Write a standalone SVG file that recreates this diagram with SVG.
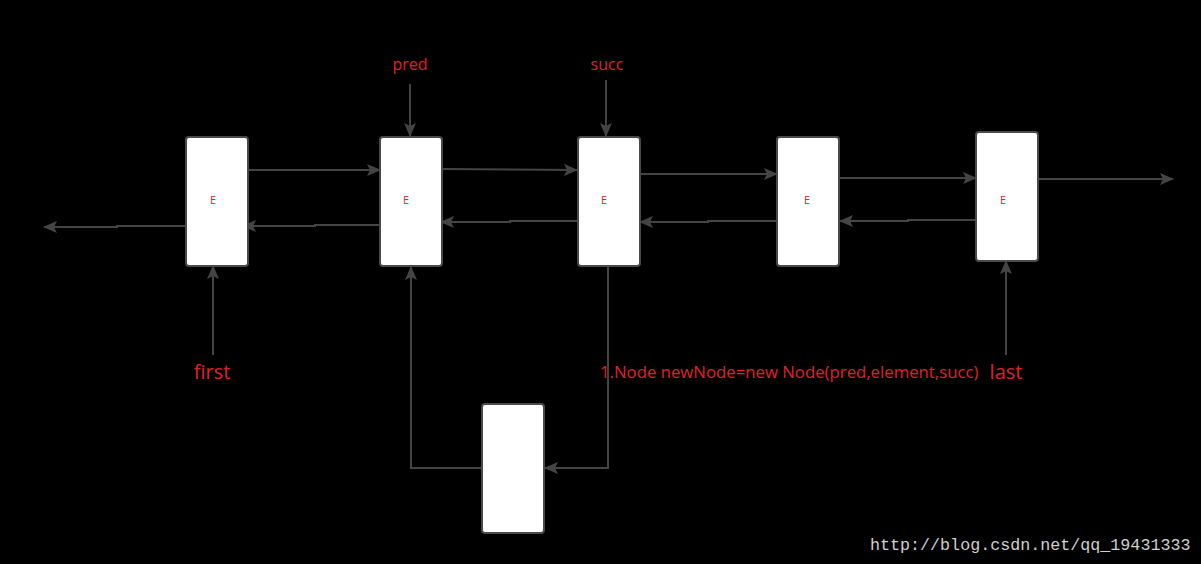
<svg xmlns="http://www.w3.org/2000/svg" width="1201" height="564" viewBox="0 0 1201 564">
<defs>
<marker id="ah" markerUnits="userSpaceOnUse" markerWidth="14" markerHeight="12" refX="13" refY="6" orient="auto">
<path d="M0,0 L14,6 L0,12 L3,6 Z" fill="#444"/>
</marker>
<style>
.box{fill:#fff;stroke:#4a4a4a;stroke-width:2}
.lbl{fill:#e0202a;font-family:"Open Sans","Noto Sans",sans-serif}
.e{font-size:11px;text-anchor:middle}
.c{fill:none;stroke:#444;stroke-width:2;marker-end:url(#ah)}
.wm{fill:#cfcfcf;font-family:"Liberation Mono",monospace;font-size:16.7px}
</style>
</defs>
<rect width="1201" height="564" fill="#000"/>
<g id="connectors">
<path class="c" d="M249,170 L380,170"/>
<path class="c" d="M380,225 L315,225 L315,226 L243,226"/>
<path class="c" d="M443,169 L577,170"/>
<path class="c" d="M578,221 L510,221 L510,222 L441,222"/>
<path class="c" d="M641,174 L777,174"/>
<path class="c" d="M777,221 L708,221 L708,222 L640,222"/>
<path class="c" d="M840,178 L976,178"/>
<path class="c" d="M976,220 L908,220 L908,221 L840,221"/>
<path class="c" d="M1039,179 L1173,179"/>
<path class="c" d="M186,226 L117,226 L117,227 L44,227"/>
<path class="c" d="M410,84 L410,136"/>
<path class="c" d="M606,80 L606,136"/>
<path class="c" d="M213,355 L213,266"/>
<path class="c" d="M1006,355 L1006,261"/>
<path class="c" d="M608,267 L608,468 L545,468"/>
<path class="c" d="M482,468 L411,468 L411,267"/>
</g>
<g id="n1"><rect class="box" x="186" y="137" width="62" height="129" rx="3"/><text class="lbl e" x="213" y="204">E</text></g>
<g id="n2"><rect class="box" x="380" y="137" width="62" height="129" rx="3"/><text class="lbl e" x="406" y="204">E</text></g>
<g id="n3"><rect class="box" x="578" y="137" width="62" height="129" rx="3"/><text class="lbl e" x="604" y="204">E</text></g>
<g id="n4"><rect class="box" x="777" y="137" width="62" height="129" rx="3"/><text class="lbl e" x="807" y="204">E</text></g>
<g id="n5"><rect class="box" x="976" y="132" width="62" height="129" rx="3"/><text class="lbl e" x="1003" y="204">E</text></g>
<g id="n6"><rect class="box" x="482" y="404" width="62" height="129" rx="3"/></g>
<g id="labels">
<text class="lbl" x="410" y="70" font-size="16" text-anchor="middle">pred</text>
<text class="lbl" x="607" y="70" font-size="16" text-anchor="middle">succ</text>
<text class="lbl" x="212" y="379" font-size="20" text-anchor="middle">first</text>
<text class="lbl" x="1006" y="379" font-size="20" text-anchor="middle">last</text>
<text class="lbl" x="600" y="378" font-size="16.75">1.Node newNode=new Node(pred,element,succ)</text>
<text class="wm" x="870" y="550">http://blog.csdn.net/qq_19431333</text>
</g>
</svg>
